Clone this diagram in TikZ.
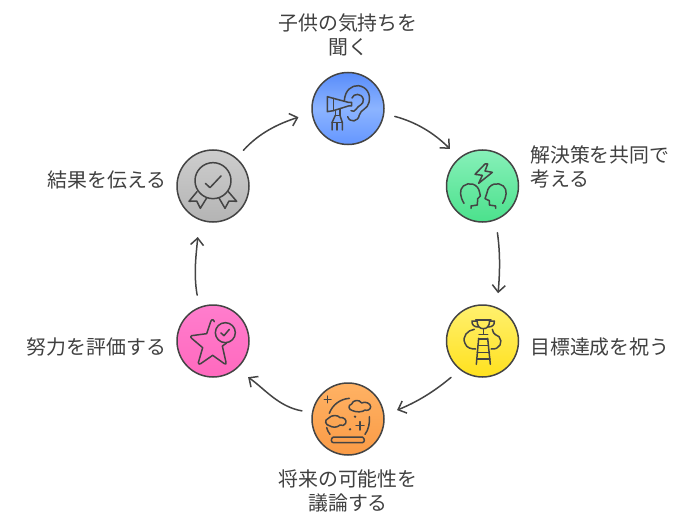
\documentclass[tikz,border=0pt]{standalone}
\usepackage{fontspec}
\setmainfont{Noto Sans CJK JP}
\usetikzlibrary{arrows.meta}
\definecolor{ink}{HTML}{444444}
\definecolor{txt}{HTML}{404040}
\tikzset{
  disc/.style={circle,draw=ink,line width=1.5pt,minimum size=72pt,inner sep=0pt},
  lab/.style={font=\fontsize{19.9}{24}\selectfont,text=txt,inner sep=0pt,align=center},
  flow/.style={draw=ink,line width=1.5pt,line cap=round,-{Straight Barb[length=7pt,width=13pt,line width=1.5pt]}},
  glyph/.style={draw=ink,line width=1.5pt,line cap=round,line join=round},
  zoomed/.style={x=0.33333pt,y=-0.33333pt}
}
\begin{document}
\begin{tikzpicture}[x=1pt,y=-1pt]
\useasboundingbox (0,0) rectangle (696,524);
\node[disc,shade,top color={rgb,255:red,88;green,140;blue,250},bottom color={rgb,255:red,100;green,150;blue,255},middle color={rgb,255:red,140;green,180;blue,255}] (hear) at (348,108.5) {};
\node[disc,shade,top color={rgb,255:red,135;green,240;blue,185},bottom color={rgb,255:red,75;green,225;blue,140}] (solve) at (482.5,186) {};
\node[disc,shade,top color={rgb,255:red,255;green,240;blue,110},bottom color={rgb,255:red,255;green,225;blue,30}] (goal) at (482.5,341) {};
\node[disc,shade,top color={rgb,255:red,255;green,178;blue,100},bottom color={rgb,255:red,250;green,155;blue,70}] (future) at (348,419) {};
\node[disc,shade,top color={rgb,255:red,255;green,125;blue,205},bottom color={rgb,255:red,255;green,105;blue,190}] (praise) at (213,341) {};
\node[disc,shade,top color={rgb,255:red,205;green,205;blue,205},bottom color={rgb,255:red,180;green,180;blue,180}] (result) at (213,186) {};

\node[lab] (t1) at (348,35) {子供の気持ちを\\聞く};
\node[lab,anchor=west,align=left] (t2) at (530,167) {解決策を共同で\\考える};
\node[lab,anchor=west] (t3) at (530,347) {目標達成を祝う};
\node[lab] (t4) at (348,491) {将来の可能性を\\議論する};
\node[lab,anchor=east] (t5) at (166.5,347) {努力を評価する};
\node[lab,anchor=east] (t6) at (166.5,180) {結果を伝える};

\draw[flow,shorten <=10.7pt,shorten >=12.6pt] (hear.-8) to[out=-15,in=135] (solve.130);
\draw[flow,shorten <=12.5pt,shorten >=14pt] (solve.-69) to[out=-82,in=85] (goal.67);
\draw[flow,shorten <=11.5pt,shorten >=13.5pt] (goal.-128) to[out=-140,in=22] (future.6);
\draw[flow,shorten <=10pt,shorten >=14pt] (future.170) to[out=170,in=-35] (praise.-50);
\draw[flow,shorten <=12pt,shorten >=17pt] (praise.112) to[out=100,in=-95] (result.-112);
\draw[flow,shorten <=10pt,shorten >=13.7pt] (result.50) to[out=48,in=198] (hear.-173);

% ear
\begin{scope}[shift={(300,70)},zoomed]
\draw[glyph] (133,92) .. controls (135,60) and (155,46) .. (175,47) .. controls (200,50) and (213,72) .. (207,97) .. controls (203,118) and (182,118) .. (178,135) .. controls (175,155) and (150,160) .. (143,140);
\draw[glyph] (156,84) .. controls (160,70) and (185,68) .. (190,88) .. controls (192,105) and (175,105) .. (168,118) .. controls (165,125) and (158,125) .. (153,122);
\draw[glyph] (82,80) -- (100,85) -- (145,97) -- (155,97) -- (155,108) -- (145,108) -- (100,122) -- (82,125) -- cycle;
\draw[glyph] (100,85) -- (100,122);
\draw[glyph] (106,122) -- (106,136) -- (120,136) -- (120,118);
\draw[glyph] (106,136) -- (96,158) -- (96,180);
\draw[glyph] (120,136) -- (127,158) -- (127,180);
\draw[glyph] (96,158) -- (127,158);
\draw[glyph] (111,158) -- (111,180);
\end{scope}
% heads
\begin{scope}[shift={(435,140)},zoomed]
\draw[glyph] (150,72) -- (120,103) -- (142,106) -- (131,130) -- (172,97) -- (150,93) -- (158,72) -- cycle;
\draw[glyph] (87,190) .. controls (75,170) and (72,150) .. (85,138) .. controls (100,125) and (130,130) .. (134,158) -- (136,168) -- (128,176) -- (127,195) -- (108,198) -- (108,205);
\draw[glyph] (203,190) .. controls (215,170) and (218,150) .. (205,138) .. controls (190,125) and (160,130) .. (156,158) -- (150,176) -- (163,182) -- (163,195) -- (182,198) -- (182,205);
\end{scope}
% trophy
\begin{scope}[shift={(435,295)},zoomed]
\draw[glyph] (122,75) -- (168,75);
\draw[glyph] (126,75) .. controls (126,95) and (135,101) .. (145,101) .. controls (155,101) and (164,95) .. (164,75);
\draw[glyph] (126,78) -- (111,78) .. controls (110,90) and (118,96) .. (130,96);
\draw[glyph] (164,78) -- (178,78) .. controls (179,90) and (172,96) .. (160,96);
\draw[glyph] (145,101) -- (145,116);
\draw[glyph] (132,118) -- (158,118);
\draw[glyph] (124,208) -- (131,130);
\draw[glyph] (166,208) -- (158,130);
\draw[glyph] (131,132) -- (158,132);
\draw[glyph] (129,152) -- (160,152);
\draw[glyph] (127,172) -- (163,172);
\draw[glyph] (125,192) -- (165,192);
\draw[glyph] (118,103) .. controls (98,105) and (80,125) .. (90,145) .. controls (95,160) and (110,162) .. (122,162);
\draw[glyph] (172,103) .. controls (175,120) and (185,120) .. (192,125) .. controls (205,140) and (195,165) .. (168,162);
\end{scope}
% crystal ball
\begin{scope}[shift={(300,375)},zoomed]
\draw[glyph] (83,63) -- (83,83) (73,73) -- (93,73);
\draw[glyph] (180,140) -- (180,165) (168,152) -- (192,152);
\draw[glyph] (88,115) .. controls (97,90) and (120,72) .. (148,70);
\draw[glyph] (208,125) .. controls (210,145) and (205,165) .. (195,178);
\draw[glyph] (90,178) .. controls (85,172) and (82,165) .. (80,158);
\draw[glyph] (100,186) -- (187,186) .. controls (195,190) and (195,202) .. (187,203) -- (100,203) .. controls (92,202) and (92,190) .. (100,186);
\draw[glyph] (158,107) .. controls (145,105) and (143,90) .. (155,87) .. controls (158,75) and (178,72) .. (185,84) .. controls (195,78) and (212,85) .. (212,95) .. controls (212,105) and (200,108) .. (195,105) .. controls (188,112) and (168,112) .. (158,107) -- cycle;
\draw[glyph] (90,153) .. controls (75,150) and (72,135) .. (85,130) .. controls (95,118) and (115,120) .. (120,128) .. controls (130,125) and (142,135) .. (137,145) .. controls (135,152) and (125,153) .. (120,150) .. controls (112,158) and (98,158) .. (90,153) -- cycle;
\fill[ink] (165,125) circle[radius=4] (150,163) circle[radius=4];
\end{scope}
% star
\begin{scope}[shift={(165,295)},zoomed]
\draw[glyph] (148,80) .. controls (145,72) and (140,72) .. (137,80) -- (125,116) -- (80,122) .. controls (76,124) and (76,127) .. (80,130) -- (113,158) -- (100,203) .. controls (100,208) and (103,208) .. (107,206) -- (143,181) -- (178,206) .. controls (182,208) and (184,207) .. (183,202) -- (172,153) -- (185,144);
\draw[glyph] (181,113) circle[radius=30];
\draw[glyph] (168,114) -- (177,122) -- (193,103);
\end{scope}
% rosette
\begin{scope}[shift={(165,140)},zoomed]
\draw[glyph] (144,122) circle[radius=54];
\draw[glyph] (121,130) -- (135,143) -- (168,108);
\draw[glyph] (96,155) -- (72,184) -- (95,183) -- (106,205) -- (125,174);
\draw[glyph] (190,155) -- (215,184) -- (192,183) -- (180,205) -- (162,174);
\end{scope}
\end{tikzpicture}
\end{document}
